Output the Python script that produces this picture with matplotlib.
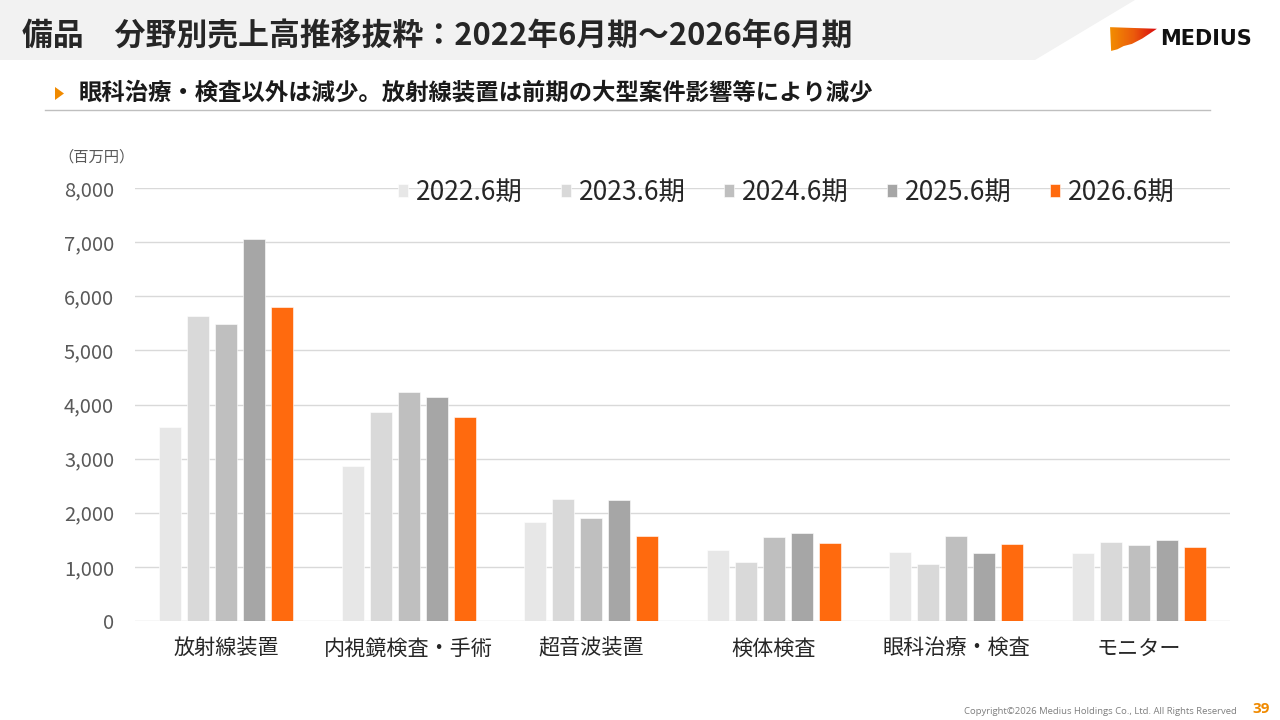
import matplotlib.pyplot as plt
import numpy as np
from matplotlib.patches import Polygon
from matplotlib.colors import LinearSegmentedColormap

plt.rcParams['font.family'] = ['Noto Sans CJK JP', 'DejaVu Sans']

categories = ['放射線装置', '内視鏡検査・手術', '超音波装置', '検体検査', '眼科治療・検査', 'モニター']
periods = ['2022.6期', '2023.6期', '2024.6期', '2025.6期', '2026.6期']
v2022 = [3590, 2865, 1820, 1305, 1270, 1250]
v2023 = [5630, 3860, 2250, 1085, 1045, 1455]
v2024 = [5485, 4235, 1910, 1550, 1570, 1410]
v2025 = [7055, 4140, 2236, 1630, 1250, 1497]
v2026 = [5800, 3770, 1571, 1442, 1415, 1365]
values = [v2022, v2023, v2024, v2025, v2026]
colors = ['#e7e7e7', '#d9d9d9', '#bfbfbf', '#a6a6a6', '#ff6a0e']
yticks = [0, 1000, 2000, 3000, 4000, 5000, 6000, 7000, 8000]

fig = plt.figure(figsize=(12.8, 7.2), dpi=100)

# header band
band = Polygon([[0, 1], [1135/1280, 1], [1035/1280, 1-60/720], [0, 1-60/720]],
               closed=True, transform=fig.transFigure, facecolor='#f2f2f2', edgecolor='none')
fig.patches.append(band)
fig.text(22/1280, 1-37/720, '備品　分野別売上高推移抜粋：2022年6月期～2026年6月期',
         fontsize=22.2, fontweight='bold', color='#262626', va='center', ha='left')

# logo (gradient flag)
gax = fig.add_axes([1108/1280, 1-52/720, 52/1280, 27/720])
gax.set_xlim(0, 1)
gax.set_ylim(0, 1)
gax.axis('off')
flag = Polygon([[0.04, 0.92], [0.94, 0.86], [0.66, 0.5], [0.46, 0.3], [0.3, 0.22],
                [0.18, 0.1], [0.06, 0.04]],
               closed=True, transform=gax.transData, facecolor='none', edgecolor='none')
gax.add_patch(flag)
grad = np.linspace(0, 1, 100).reshape(1, -1)
cmap = LinearSegmentedColormap.from_list('lg', ['#f39200', '#eb5a0c', '#d7000f'])
im = gax.imshow(grad, cmap=cmap, aspect='auto', extent=[0, 1, 0, 1])
im.set_clip_path(flag)
fig.text(1160/1280, 1-39/720, 'MEDIUS', fontsize=15, fontweight='bold', color='#111111',
         va='center', ha='left', family=['DejaVu Sans'])

# subtitle
tri = Polygon([[55/1280, 1-87/720], [64/1280, 1-93.5/720], [55/1280, 1-100/720]],
              closed=True, transform=fig.transFigure, facecolor='#f08a00', edgecolor='none')
fig.patches.append(tri)
fig.text(79/1280, 1-93/720, '眼科治療・検査以外は減少。放射線装置は前期の大型案件影響等により減少',
         fontsize=16.8, fontweight='bold', color='#1a1a1a', va='center', ha='left')
fig.add_artist(plt.Line2D([45/1280, 1210/1280], [1-110/720, 1-110/720],
                          transform=fig.transFigure, color='#bfbfbf', lw=1))

fig.text(58/1280, 1-157/720, '（百万円）', fontsize=11, color='#595959', va='center', ha='left')

ax = fig.add_axes([135/1280, 1-621/720, (1230-135)/1280, (621-188)/720])
x = np.arange(len(categories))
w = 0.12
step = 0.153
for i, (vals, c) in enumerate(zip(values, colors)):
    ax.bar(x + (i - 2) * step, vals, width=w, color=c, label=periods[i], zorder=3,
           edgecolor='white', linewidth=0.4)

ax.set_xlim(-0.5, len(categories) - 0.5)
ax.set_ylim(0, 8000)
ax.set_yticks(yticks)
ax.set_yticklabels([f'{t:,}' for t in yticks], fontsize=14.5, color='#595959')
ax.set_xticks(x)
ax.set_xticklabels(categories, fontsize=15.2, color='#262626')
ax.tick_params(axis='both', length=0)
ax.tick_params(axis='y', pad=15)
ax.tick_params(axis='x', pad=12)
ax.grid(axis='y', color='#d9d9d9', lw=1, zorder=0)
for s in ax.spines.values():
    s.set_visible(False)

leg = ax.legend(loc='center', bbox_to_anchor=(786/1280, 1-192/720), bbox_transform=fig.transFigure,
                ncol=5, frameon=False, fontsize=19, handlelength=0.38, handleheight=0.38,
                handletextpad=0.3, columnspacing=1.45, labelcolor='#262626')

fig.text(1237/1280, 1-712/720, 'Copyright©2026 Medius Holdings Co., Ltd. All Rights Reserved',
         fontsize=6.8, color='#7f7f7f', va='center', ha='right', family=['Open Sans', 'DejaVu Sans'])
fig.text(1252/1280, 1-709/720, '39', fontsize=11, fontweight='bold', color='#f08a00',
         va='center', ha='left', family=['Open Sans', 'DejaVu Sans'])

fig.savefig('out.png', dpi=100)
